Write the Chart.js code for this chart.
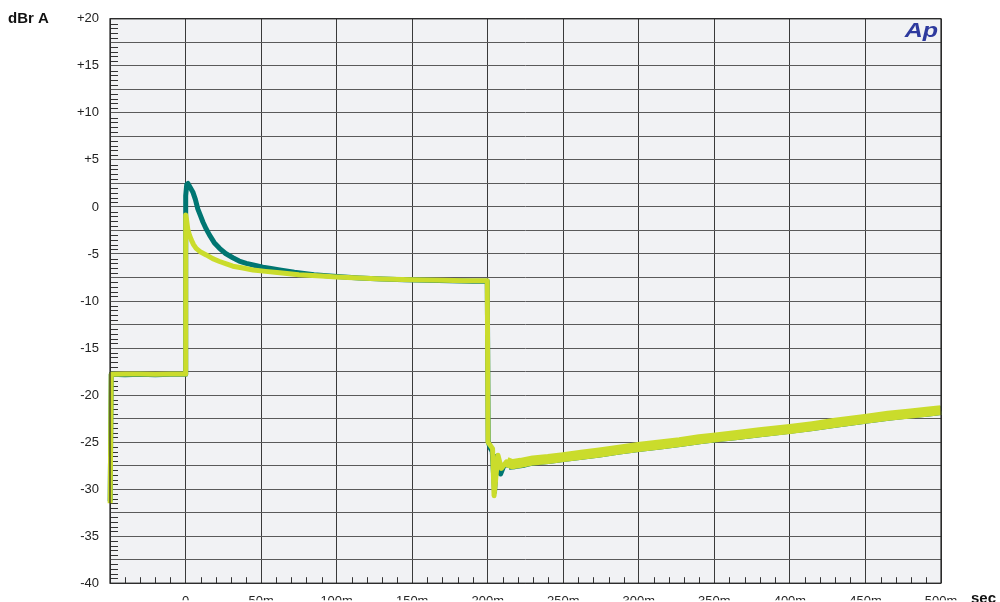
<!DOCTYPE html>
<html>
<head>
<meta charset="utf-8">
<script src="https://cdn.jsdelivr.net/npm/chart.js@4"></script>
<style>
  html, body { margin: 0; padding: 0; background: #ffffff; }
  #wrap { width: 1000px; height: 602px; position: relative; }
</style>
</head>
<body>
<div id="wrap"><canvas id="c" width="1000" height="602"></canvas></div>
<script>
// Time in milliseconds, level in dBr A
const tealTime = [-49.9, -49.2, -40, -30, -20, -10, -0.2, 0.1, 0.8, 1.6, 3, 4.8, 6.5, 8.1, 9.8, 11.5, 13.5, 15.9, 19, 22.5, 26.5, 31.3, 35.5, 40.2, 45.5, 51.2, 56.5, 62.3, 72, 85, 100, 115, 130, 145, 160, 175, 190, 199.7, 200.3, 201.5, 203, 204.5, 206, 208.5, 211, 214, 218, 224, 230, 240, 250, 262, 274, 287, 301, 314, 327, 340, 351, 365, 380, 400, 415, 430, 451, 465, 480, 492, 500];
const tealLevel = [-31.3, -17.8, -17.85, -17.8, -17.85, -17.8, -17.8, 1.2, 2.4, 2.5, 2.1, 1.6, 0.8, -0.2, -0.9, -1.6, -2.3, -3.0, -3.8, -4.4, -4.95, -5.4, -5.75, -6.0, -6.2, -6.4, -6.55, -6.7, -6.95, -7.2, -7.4, -7.55, -7.65, -7.75, -7.8, -7.85, -7.9, -7.9, -24.9, -25.6, -26.0, -30.3, -26.5, -28.4, -27.4, -27.45, -27.4, -27.25, -27.0, -26.85, -26.65, -26.4, -26.15, -25.85, -25.55, -25.3, -25.05, -24.75, -24.55, -24.3, -24.0, -23.65, -23.35, -23.0, -22.55, -22.25, -22.0, -21.8, -21.65];

const limeTime = [-49.9, -49.2, -40, -30, -20, -10, -0.2, 0.1, 0.6, 1.5, 2.6, 3.8, 5.3, 7, 10, 13.7, 18, 22.5, 27, 31.3, 38, 44.6, 53, 62.3, 75, 90, 100, 115, 130, 150, 170, 185, 199.7, 200.2, 203.2, 204.2, 206.8, 209, 212.4, 216, 222, 230, 240, 250, 262, 274, 287, 301, 314, 327, 340, 351, 365, 380, 400, 415, 430, 451, 465, 480, 492, 500];
const limeLevel = [-31.5, -17.8, -17.75, -17.75, -17.8, -17.75, -17.75, -0.85, -1.3, -2.4, -3.0, -3.5, -4.0, -4.4, -4.8, -5.1, -5.5, -5.8, -6.05, -6.3, -6.5, -6.7, -6.85, -7.0, -7.2, -7.35, -7.45, -7.55, -7.65, -7.75, -7.8, -7.85, -7.85, -25.0, -25.7, -30.7, -26.4, -27.8, -27.1, -27.35, -27.2, -26.95, -26.8, -26.6, -26.35, -26.1, -25.8, -25.5, -25.25, -25.0, -24.7, -24.5, -24.25, -23.95, -23.6, -23.3, -22.95, -22.5, -22.2, -21.95, -21.75, -21.6];

// Beyond this time the recovery trace is noisy and reads as a wide band
const bandStart = 212;

const xMin = -50, xMax = 500, xStep = 50, xMinorStep = 10;
const yMin = -40, yMax = 20, yStep = 2.5, yLabelStep = 5, yMinorStep = 0.5;
const yTitle = 'dBr A';
const xTitle = 'sec';
const brand = 'Ap';

const FONT = '"Liberation Sans", Arial, Helvetica, sans-serif';

function pairs(xs, ys) { return xs.map((x, i) => ({ x: x, y: ys[i] })); }
function tail(xs, ys) { return pairs(xs, ys).filter(p => p.x >= bandStart); }

const TEAL = '#007672';
const LIME = '#cadc2c';

const frame = {
  id: 'frame',
  beforeDraw(chart) {
    const { ctx, chartArea: a } = chart;
    ctx.save();
    ctx.fillStyle = '#f1f2f4';
    ctx.fillRect(a.left, a.top, a.right - a.left, a.bottom - a.top);
    ctx.restore();
  },
  beforeDatasetsDraw(chart) {
    const { ctx, chartArea: a, scales } = chart;
    ctx.save();
    ctx.strokeStyle = '#333333';
    ctx.lineWidth = 1;
    ctx.beginPath();
    // minor ticks along the bottom edge
    for (let t = xMin + xMinorStep; t < xMax; t += xMinorStep) {
      if (Math.abs(t % xStep) < 1e-6) continue;
      const px = Math.round(scales.x.getPixelForValue(t)) + 0.5;
      ctx.moveTo(px, a.bottom);
      ctx.lineTo(px, a.bottom - 6);
    }
    // minor ticks along the left edge
    for (let v = yMin + yMinorStep; v < yMax; v += yMinorStep) {
      if (Math.abs(v % yStep) < 1e-6) continue;
      const py = Math.round(scales.y.getPixelForValue(v)) + 0.5;
      ctx.moveTo(a.left, py);
      ctx.lineTo(a.left + 8, py);
    }
    ctx.stroke();
    ctx.restore();
  },
  afterDraw(chart) {
    const { ctx, chartArea: a } = chart;
    ctx.save();
    ctx.strokeStyle = '#222222';
    ctx.lineWidth = 1.2;
    ctx.strokeRect(a.left, a.top, a.right - a.left, a.bottom - a.top);
    ctx.fillStyle = '#111111';
    ctx.font = 'bold 15px ' + FONT;
    ctx.textBaseline = 'middle';
    ctx.textAlign = 'left';
    ctx.fillText(yTitle, 8, 19);
    ctx.fillText(xTitle, 971, 599);
    // brand mark in the top-right corner
    ctx.fillStyle = '#2e3a9e';
    ctx.font = 'italic bold 20px ' + FONT;
    ctx.textAlign = 'right';
    ctx.textBaseline = 'alphabetic';
    ctx.translate(a.right - 3, 37);
    ctx.scale(1.25, 1);
    ctx.fillText(brand, 0, 0);
    ctx.restore();
  }
};

new Chart(document.getElementById('c'), {
  type: 'line',
  data: {
    datasets: [
      { label: 'B band', data: tail(limeTime, limeLevel), borderColor: LIME, borderWidth: 10, order: 0 },
      { label: 'B', data: pairs(limeTime, limeLevel), borderColor: LIME, borderWidth: 5, order: 1 },
      { label: 'A band', data: tail(tealTime, tealLevel), borderColor: TEAL, borderWidth: 9, order: 2 },
      { label: 'A', data: pairs(tealTime, tealLevel), borderColor: TEAL, borderWidth: 5, order: 3 }
    ]
  },
  options: {
    responsive: false,
    animation: false,
    events: [],
    layout: { padding: { top: 18, right: 59, left: 0, bottom: 0 } },
    elements: {
      point: { radius: 0 },
      line: { tension: 0, borderJoinStyle: 'round', borderCapStyle: 'butt', fill: false }
    },
    datasets: { line: { clip: 6 } },
    plugins: { legend: { display: false }, tooltip: { enabled: false }, title: { display: false } },
    scales: {
      x: {
        type: 'linear',
        min: xMin, max: xMax,
        afterFit(s) { s.height = 17; },
        ticks: {
          stepSize: xStep,
          padding: 10,
          color: '#222222',
          font: { family: FONT, size: 13 },
          maxRotation: 0,
          autoSkip: false,
          callback: v => (v === xMin ? '' : (v === 0 ? '0' : v + 'm'))
        },
        grid: { color: '#3a3a3a', lineWidth: 1, drawTicks: false },
        border: { display: false }
      },
      y: {
        type: 'linear',
        min: yMin, max: yMax,
        afterFit(s) { s.width = 110; },
        ticks: {
          stepSize: yStep,
          padding: 11,
          color: '#222222',
          font: { family: FONT, size: 13 },
          autoSkip: false,
          callback: v => (Math.abs(v % yLabelStep) > 1e-6 ? '' : (v > 0 ? '+' + v : String(v)))
        },
        grid: { color: '#5a5a5a', lineWidth: 1, drawTicks: false },
        border: { display: false }
      }
    }
  },
  plugins: [frame]
});
</script>
</body>
</html>
